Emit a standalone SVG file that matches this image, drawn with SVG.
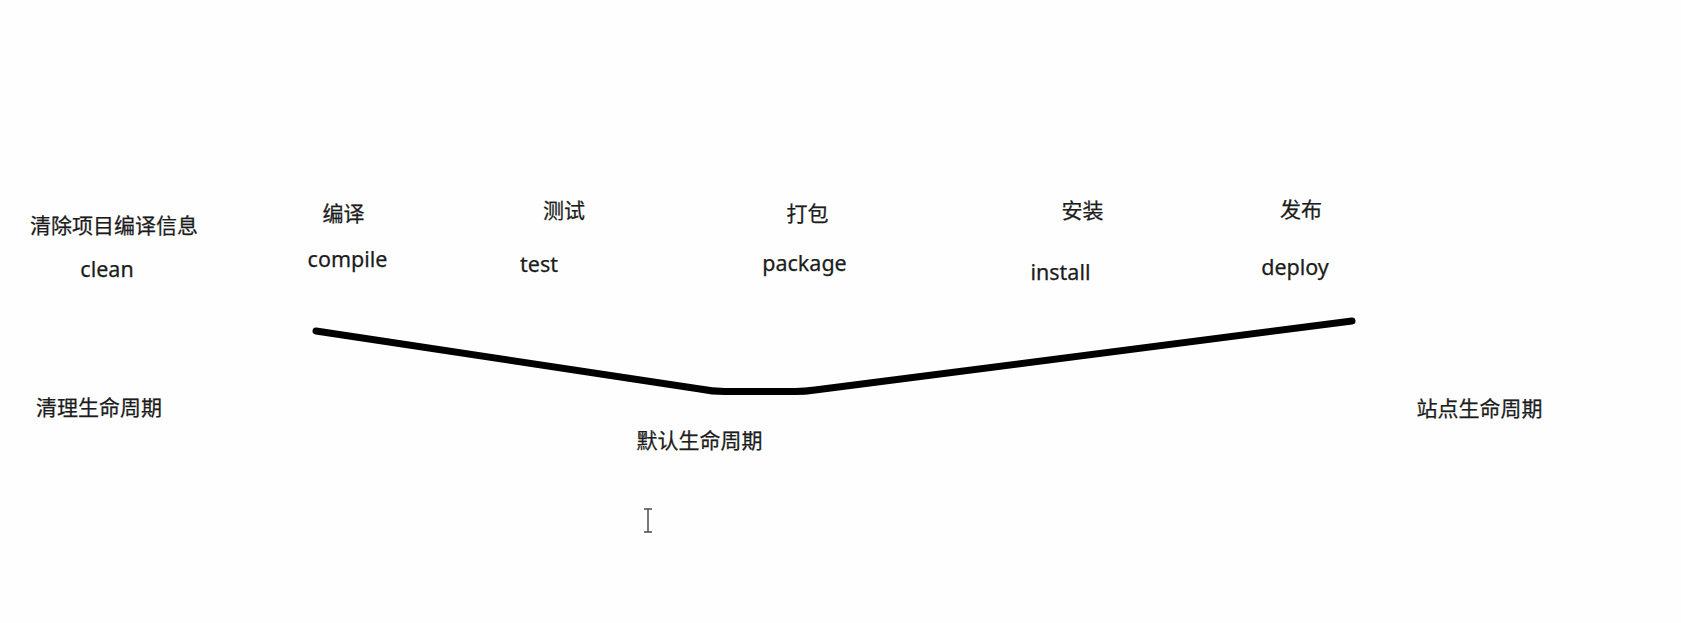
<svg xmlns="http://www.w3.org/2000/svg" width="1681" height="623" viewBox="0 0 1681 623">
<style>
text{fill:#1c1c1c;text-anchor:middle;stroke:#1c1c1c;stroke-width:0.25}
.zh{font-family:"Noto Sans CJK SC","Noto Sans",sans-serif;font-size:21px}
.en{font-family:"Noto Sans","Open Sans",sans-serif;font-size:21.5px}
.line{fill:none;stroke:#000;stroke-width:7;stroke-linecap:round;stroke-linejoin:round}
</style>
<rect width="1681" height="623" fill="#fdfefd"/>
<g id="connectors">
<path class="line" d="M316,331 L700,389 Q712,391.5 725,391.5 L795,391.5 Q805,391.5 815,390 L1352,321"/>
</g>
<g id="node-clean">
<text class="zh" x="114" y="233">清除项目编译信息</text>
<text class="en" x="107" y="277">clean</text>
</g>
<g id="node-compile">
<text class="zh" x="343.5" y="220.5">编译</text>
<text class="en" x="347.5" y="267">compile</text>
</g>
<g id="node-test">
<text class="zh" x="564" y="217.5">测试</text>
<text class="en" x="539" y="272">test</text>
</g>
<g id="node-package">
<text class="zh" x="807.5" y="220.5">打包</text>
<text class="en" x="804.5" y="271">package</text>
</g>
<g id="node-install">
<text class="zh" x="1082.5" y="217.5">安装</text>
<text class="en" x="1060.5" y="280">install</text>
</g>
<g id="node-deploy">
<text class="zh" x="1301" y="216.5">发布</text>
<text class="en" x="1295" y="275">deploy</text>
</g>
<g id="label-clean-lifecycle">
<text class="zh" x="99" y="414.5">清理生命周期</text>
</g>
<g id="label-default-lifecycle">
<text class="zh" x="699.5" y="447.5">默认生命周期</text>
</g>
<g id="label-site-lifecycle">
<text class="zh" x="1479.5" y="415.5">站点生命周期</text>
</g>
<g id="cursor" stroke="#555" stroke-width="1.6" fill="none">
<line x1="648" y1="509" x2="648" y2="532"/>
<line x1="644" y1="509" x2="652" y2="509"/>
<line x1="644" y1="532" x2="652" y2="532"/>
</g>
</svg>
